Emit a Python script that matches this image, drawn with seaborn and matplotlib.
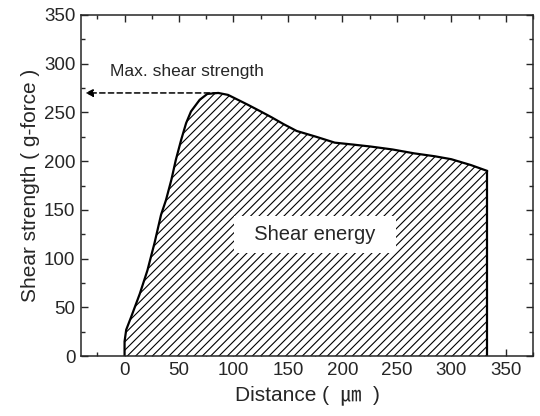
import numpy as np
import pandas as pd
import matplotlib
matplotlib.use("Agg")
import matplotlib.pyplot as plt
import seaborn as sns
from matplotlib.ticker import MultipleLocator

# values
distance = [0, 0, 1.5, 6, 14, 21, 27.5, 33.5, 38, 43, 47, 52, 56.5, 61, 69, 76, 86,
            95, 104, 113, 125, 135, 146, 158, 176, 193, 210, 226, 246, 266, 285,
            300, 318, 333]
strength = [0, 15, 27, 40, 64, 88, 116, 145, 160, 181, 201, 222, 239, 251, 263, 269, 270,
            268, 263, 258, 251, 245, 238, 231, 225, 219, 217, 215, 212, 208, 205,
            202, 196, 190]

max_label = "Max. shear strength"
area_label = "Shear energy"
x_label = "Distance (  \u339b  )"
y_label = "Shear strength ( g-force )"

df = pd.DataFrame({"distance": distance, "strength": strength})

sns.set_style("ticks")
plt.rcParams['font.family'] = ['Liberation Sans', 'Noto Sans CJK JP', 'DejaVu Sans']
plt.rcParams['hatch.linewidth'] = 0.8

fig, ax = plt.subplots(figsize=(5.4, 4.16), dpi=100)
fig.subplots_adjust(left=0.15, right=0.987, bottom=0.144, top=0.964)

# hatched area under the curve
ax.fill_between(df['distance'], 0, df['strength'], facecolor='white',
                edgecolor='black', hatch='////', linewidth=0)
sns.lineplot(data=df, x='distance', y='strength', color='black', lw=1.6,
             sort=False, estimator=None, ax=ax)
ax.plot([distance[-1], distance[-1]], [strength[-1], 0], color='black', lw=1.6)

# arrow to the maximum
i_max = int(np.argmax(strength))
ax.annotate("", xy=(-36, strength[i_max]), xytext=(distance[i_max], strength[i_max]),
            arrowprops=dict(arrowstyle='-|>', linestyle=(0, (3.5, 2.2)), color='black',
                            lw=1.1, mutation_scale=11, shrinkA=0, shrinkB=0))
ax.text(57.5, 292, max_label, fontsize=12.5, ha='center', va='center')

ax.text(175, 125, "  " + area_label + "  ", fontsize=14.5, ha='center', va='center',
        bbox=dict(facecolor='white', edgecolor='none', boxstyle='square,pad=0.45'))

ax.set_xlim(-40, 375)
ax.set_ylim(0, 350)
ax.xaxis.set_major_locator(MultipleLocator(50))
ax.xaxis.set_minor_locator(MultipleLocator(25))
ax.yaxis.set_major_locator(MultipleLocator(50))
ax.yaxis.set_minor_locator(MultipleLocator(25))
ax.set_xticks([0, 50, 100, 150, 200, 250, 300, 350])
ax.tick_params(which='both', direction='in', top=True, right=True, width=1)
ax.tick_params(which='major', length=5, labelsize=13.5, pad=4)
ax.tick_params(which='minor', length=3)
for s in ax.spines.values():
    s.set_linewidth(1.1)

ax.set_xlabel(x_label, fontsize=15, labelpad=5)
ax.set_ylabel(y_label, fontsize=15, labelpad=3)

fig.savefig("out.png", dpi=100)
